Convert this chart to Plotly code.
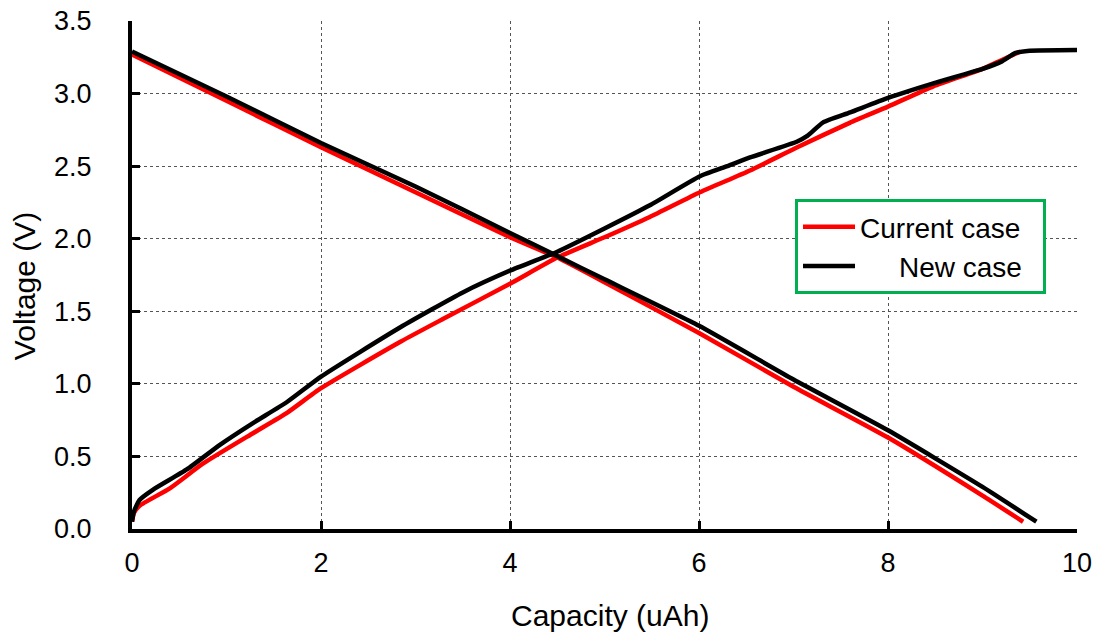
import plotly.graph_objects as go

# Charge curves (rising)
cur_chg_x = [0, 0.02, 0.08, 0.4, 0.75, 1.28, 1.64, 2.0, 2.84, 3.3, 4.0, 4.5, 5.0, 5.48, 6.01, 6.54, 7.04, 7.6, 8.0, 8.48, 9.0, 9.2, 9.4]
cur_chg_v = [0.05, 0.11, 0.16, 0.28, 0.45, 0.66, 0.80, 0.97, 1.29, 1.45, 1.69, 1.87, 2.01, 2.15, 2.32, 2.47, 2.63, 2.80, 2.91, 3.05, 3.17, 3.23, 3.29]
new_chg_x = [0, 0.02, 0.08, 0.22, 0.58, 0.93, 1.28, 1.64, 2.0, 2.84, 3.5, 4.0, 4.5, 5.0, 5.48, 6.01, 6.3, 6.54, 7.04, 7.15, 7.31, 7.6, 8.0, 8.48, 9.0, 9.2, 9.35, 9.5, 10.0]
new_chg_v = [0.05, 0.12, 0.20, 0.27, 0.41, 0.58, 0.73, 0.875, 1.05, 1.39, 1.63, 1.78, 1.91, 2.07, 2.23, 2.43, 2.50, 2.56, 2.67, 2.71, 2.80, 2.87, 2.97, 3.07, 3.17, 3.22, 3.28, 3.295, 3.30]

# Discharge curves (falling)
cur_dis_x = [0, 1, 2, 3, 4, 4.5, 5, 6, 7, 8, 9, 9.43]
cur_dis_v = [3.27, 2.95, 2.63, 2.32, 2.01, 1.87, 1.70, 1.35, 0.98, 0.63, 0.23, 0.05]
new_dis_x = [0, 1, 2, 3, 4, 4.5, 5, 6, 7, 8, 9, 9.57]
new_dis_v = [3.29, 2.98, 2.66, 2.36, 2.04, 1.88, 1.72, 1.40, 1.03, 0.68, 0.29, 0.05]

x_ticks = [0, 2, 4, 6, 8, 10]
y_ticks = [0.0, 0.5, 1.0, 1.5, 2.0, 2.5, 3.0, 3.5]

FONT = "Liberation Sans, Arial, sans-serif"
NB = "\u00a0"

fig = go.Figure()
fig.add_trace(go.Scatter(
    x=cur_chg_x + [None] + cur_dis_x, y=cur_chg_v + [None] + cur_dis_v,
    mode="lines", name="Current case" + NB * 2, connectgaps=False,
    line=dict(color="#FF0000", width=4.5, shape="spline", smoothing=0.5)))
fig.add_trace(go.Scatter(
    x=new_chg_x + [None] + new_dis_x, y=new_chg_v + [None] + new_dis_v,
    mode="lines", name=NB * 5 + "New case" + NB * 2, connectgaps=False,
    line=dict(color="#000000", width=4.5, shape="spline", smoothing=0.5)))

fig.update_layout(
    width=1098, height=635,
    margin=dict(l=132, r=21, t=21, b=106),
    paper_bgcolor="white", plot_bgcolor="white",
    font=dict(family=FONT, size=27, color="black"),
    showlegend=True,
    legend=dict(x=0.7016, y=0.6496, xanchor="left", yanchor="top",
                bordercolor="#00B050", borderwidth=3, bgcolor="white",
                itemwidth=52,
                font=dict(family=FONT, size=28, color="black")),
    annotations=[
        dict(text="Capacity (uAh)", xref="paper", yref="paper",
             x=0.5058, y=-0.1693, xanchor="center", yanchor="middle",
             showarrow=False, font=dict(family=FONT, size=30)),
        dict(text="Voltage (V)", xref="paper", yref="paper",
             x=-0.1143, y=0.478, xanchor="center", yanchor="middle",
             textangle=-90, showarrow=False, font=dict(family=FONT, size=30)),
    ],
)
fig.update_xaxes(
    range=[0, 10], tickvals=x_ticks, ticktext=[str(v) for v in x_ticks],
    showline=True, linecolor="black", linewidth=4,
    ticks="inside", ticklen=8, tickwidth=3, tickcolor="black",
    showgrid=True, gridcolor="#555555", gridwidth=1, griddash="dot",
    zeroline=False, ticklabelstandoff=7, automargin=False,
    ticklabeloverflow="allow",
)
fig.update_yaxes(
    range=[0, 3.5], tickvals=y_ticks, ticktext=[f"{v:.1f}" for v in y_ticks],
    showline=True, linecolor="black", linewidth=4,
    ticks="inside", ticklen=8, tickwidth=3, tickcolor="black",
    showgrid=True, gridcolor="#555555", gridwidth=1, griddash="dot",
    zeroline=False, ticklabelstandoff=31, automargin=False,
    ticklabeloverflow="allow",
)

# remove the default 8px page margin so the figure fills the window exactly
fig.write_html("out.html",
               config={"displayModeBar": False},
               post_script="document.body.style.margin='0';document.body.style.overflow='hidden';")
